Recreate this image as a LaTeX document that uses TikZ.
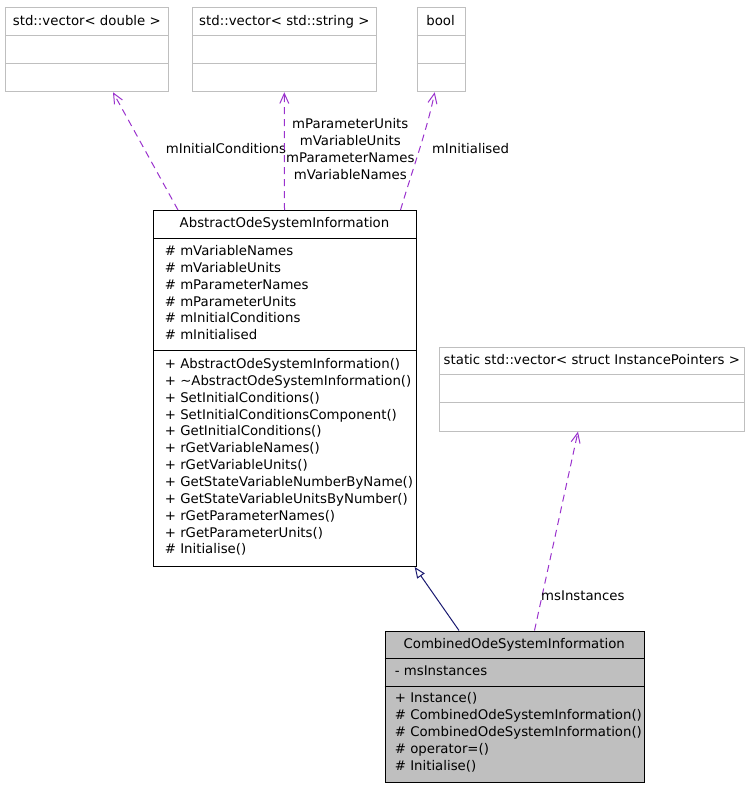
\documentclass[tikz,border=0pt]{standalone}
\usepackage{fontspec}
\setmainfont{DejaVu Sans}
\usetikzlibrary{arrows.meta,calc}
\definecolor{boxgray}{HTML}{BFBFBF}
\definecolor{usecol}{HTML}{9A32CD}
\definecolor{navyc}{HTML}{191970}
\tikzset{
  umlbox/.style 2 args={draw, line width=1pt, anchor=north west, inner sep=0pt,
    minimum width=#1, minimum height=#2},
  ghost/.style={umlbox={#1}{84}, draw=boxgray},
  txt/.style={inner sep=0pt, anchor=base west, font=\fontsize{13.3}{16}\selectfont},
  ctxt/.style={inner sep=0pt, anchor=base, font=\fontsize{13.3}{16}\selectfont},
  usage/.style={draw=usecol, line width=1pt, dash pattern=on 7pt off 5pt,
    -{Straight Barb[length=10pt,width=9pt]}},
  inherit/.style={draw=navyc, line width=1pt,
    -{Triangle[open,length=11pt,width=9pt,line width=1pt]}}
}
\begin{document}
\begin{tikzpicture}[x=1pt,y=-1pt]
\useasboundingbox (0,0) rectangle (748,787);
% top ghost boxes
\node[ghost=163] (vd) at (5.3,7.3) {};
\draw[boxgray,line width=1pt] (5.3,35) -- (168.3,35) (5.3,63.3) -- (168.3,63.3);
\node[ctxt] (vdt) at (86.8,25) {std::vector< double >};
\node[ghost=184] (vs) at (192.3,7.3) {};
\draw[boxgray,line width=1pt] (192.3,35) -- (376.3,35) (192.3,63.3) -- (376.3,63.3);
\node[ctxt] (vst) at (284.3,25) {std::vector< std::string >};
\node[ghost=47.8] (bl) at (416.7,7.3) {};
\draw[boxgray,line width=1pt] (416.7,35) -- (464.5,35) (416.7,63.3) -- (464.5,63.3);
\node[ctxt] (blt) at (440.6,25) {bool};
% static box
\node[ghost=305] (st) at (439.3,346.7) {};
\draw[boxgray,line width=1pt] (439.3,374.3) -- (744.3,374.3) (439.3,402.3) -- (744.3,402.3);
\node[ctxt] (stt) at (591.8,364) {static std::vector< struct InstancePointers >};
% abstract box
\node[umlbox={263}{356}] (abs) at (153,210) {};
\draw[line width=1pt] (153,238.3) -- (416,238.3) (153,350.5) -- (416,350.5);
\node[ctxt] (abst) at (284.5,227.7) {AbstractOdeSystemInformation};
\foreach \t [count=\i from 0] in {\# mVariableNames,\# mVariableUnits,\# mParameterNames,\# mParameterUnits,\# mInitialConditions,\# mInitialised}
  \node[txt] (aa\i) at (164.7,255.7+16.8*\i) {\t};
\foreach \t [count=\i from 0] in {+ AbstractOdeSystemInformation(),+ \textasciitilde AbstractOdeSystemInformation(),+ SetInitialConditions(),+ SetInitialConditionsComponent(),+ GetInitialConditions(),+ rGetVariableNames(),+ rGetVariableUnits(),+ GetStateVariableNumberByName(),+ GetStateVariableUnitsByNumber(),+ rGetParameterNames(),+ rGetParameterUnits(),\# Initialise()}
  \node[txt] (am\i) at (164.7,368.5+16.85*\i) {\t};
% combined box
\node[umlbox={259.5}{151.5}, fill=boxgray] (comb) at (384.5,630.5) {};
\draw[line width=1pt] (384.5,658.3) -- (644,658.3) (384.5,686.7) -- (644,686.7);
\node[ctxt] (combt) at (514.2,648.3) {CombinedOdeSystemInformation};
\node[txt] (ca0) at (394.7,675.7) {- msInstances};
\foreach \t [count=\i from 0] in {+ Instance(),\# CombinedOdeSystemInformation(),\# CombinedOdeSystemInformation(),\# operator=(),\# Initialise()}
  \node[txt] (cm\i) at (394.7,702.7+17*\i) {\t};
% connectors
\draw[usage] ($(abs.north west)+(25,0)$) -- ($(vd.south west)+(107.7,0)$);
\node[ctxt] (l1) at (226,153.3) {mInitialConditions};
\draw[usage] ($(abs.north west)+(131.5,0)$) -- ($(vs.south west)+(92,0)$);
\node[ctxt] (l2a) at (350.3,128.3) {mParameterUnits};
\node[ctxt] (l2b) at (350.3,145.3) {mVariableUnits};
\node[ctxt] (l2c) at (350.3,162.3) {mParameterNames};
\node[ctxt] (l2d) at (350.3,179.2) {mVariableNames};
\draw[usage] ($(abs.north west)+(247.5,0)$) .. controls (413,168) and (427,130) .. ($(bl.south west)+(18,0)$);
\node[ctxt] (l3) at (470.5,153.3) {mInitialised};
\draw[usage] ($(comb.north west)+(150,0)$) -- ($(st.south west)+(138.7,0)$);
\node[txt] (l4) at (541,600.3) {msInstances};
\draw[inherit] ($(comb.north west)+(74.5,0)$) -- ($(abs.south east)+(-2.3,0)$);
\end{tikzpicture}
\end{document}
